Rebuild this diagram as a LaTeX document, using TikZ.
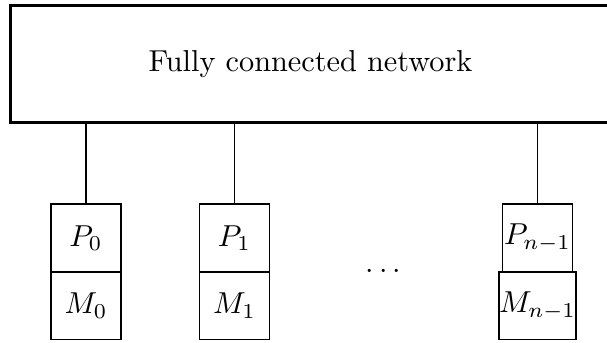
\documentclass[tikz,border=0pt]{standalone}
\usepackage{amsmath}
\usepackage{amssymb}
\usetikzlibrary{arrows, calc, positioning}
\tikzstyle{network} = [rectangle, draw, line width=1pt, inner sep=0pt,
    minimum width=198pt, minimum height=38.9pt]
\tikzstyle{cell} = [rectangle, draw, inner sep=0pt, outer sep=0pt,
    minimum width=23.1pt, minimum height=22.4pt]
\tikzstyle{line} = [draw]

\begin{document}
\begin{tikzpicture}[x=0.33pt, y=-0.33pt]
        \useasboundingbox (0,0) rectangle (607,342);
        % Place nodes
        \node [network] (NET) at (310.5,64) {};
        \node (NETlabel) at (NET.center) {Fully connected network};
        \node [cell] (P0) at (86,238) {$P_0$};
        \node [cell] (M0) [below =0pt of P0] {$M_0$};
        \node [cell] (P1) at (234.5,238) {$P_1$};
        \node [cell] (M1) [below =0pt of P1] {$M_1$};
        \node [cell] (Pn) at (537.5,238) {$P_{n-1}$};
        \node [cell] (Mn) [below =0pt of Pn] {$M_{n-1}$};
        \node (dots) at (386,272) {$\cdots$};
        % Draw edges
        \path [line] (P0.north) -- (P0.north |- NET.south);
        \path [line] (P1.north) -- (P1.north |- NET.south);
        \path [line] (Pn.north) -- (Pn.north |- NET.south);
    \end{tikzpicture}
\end{document}
